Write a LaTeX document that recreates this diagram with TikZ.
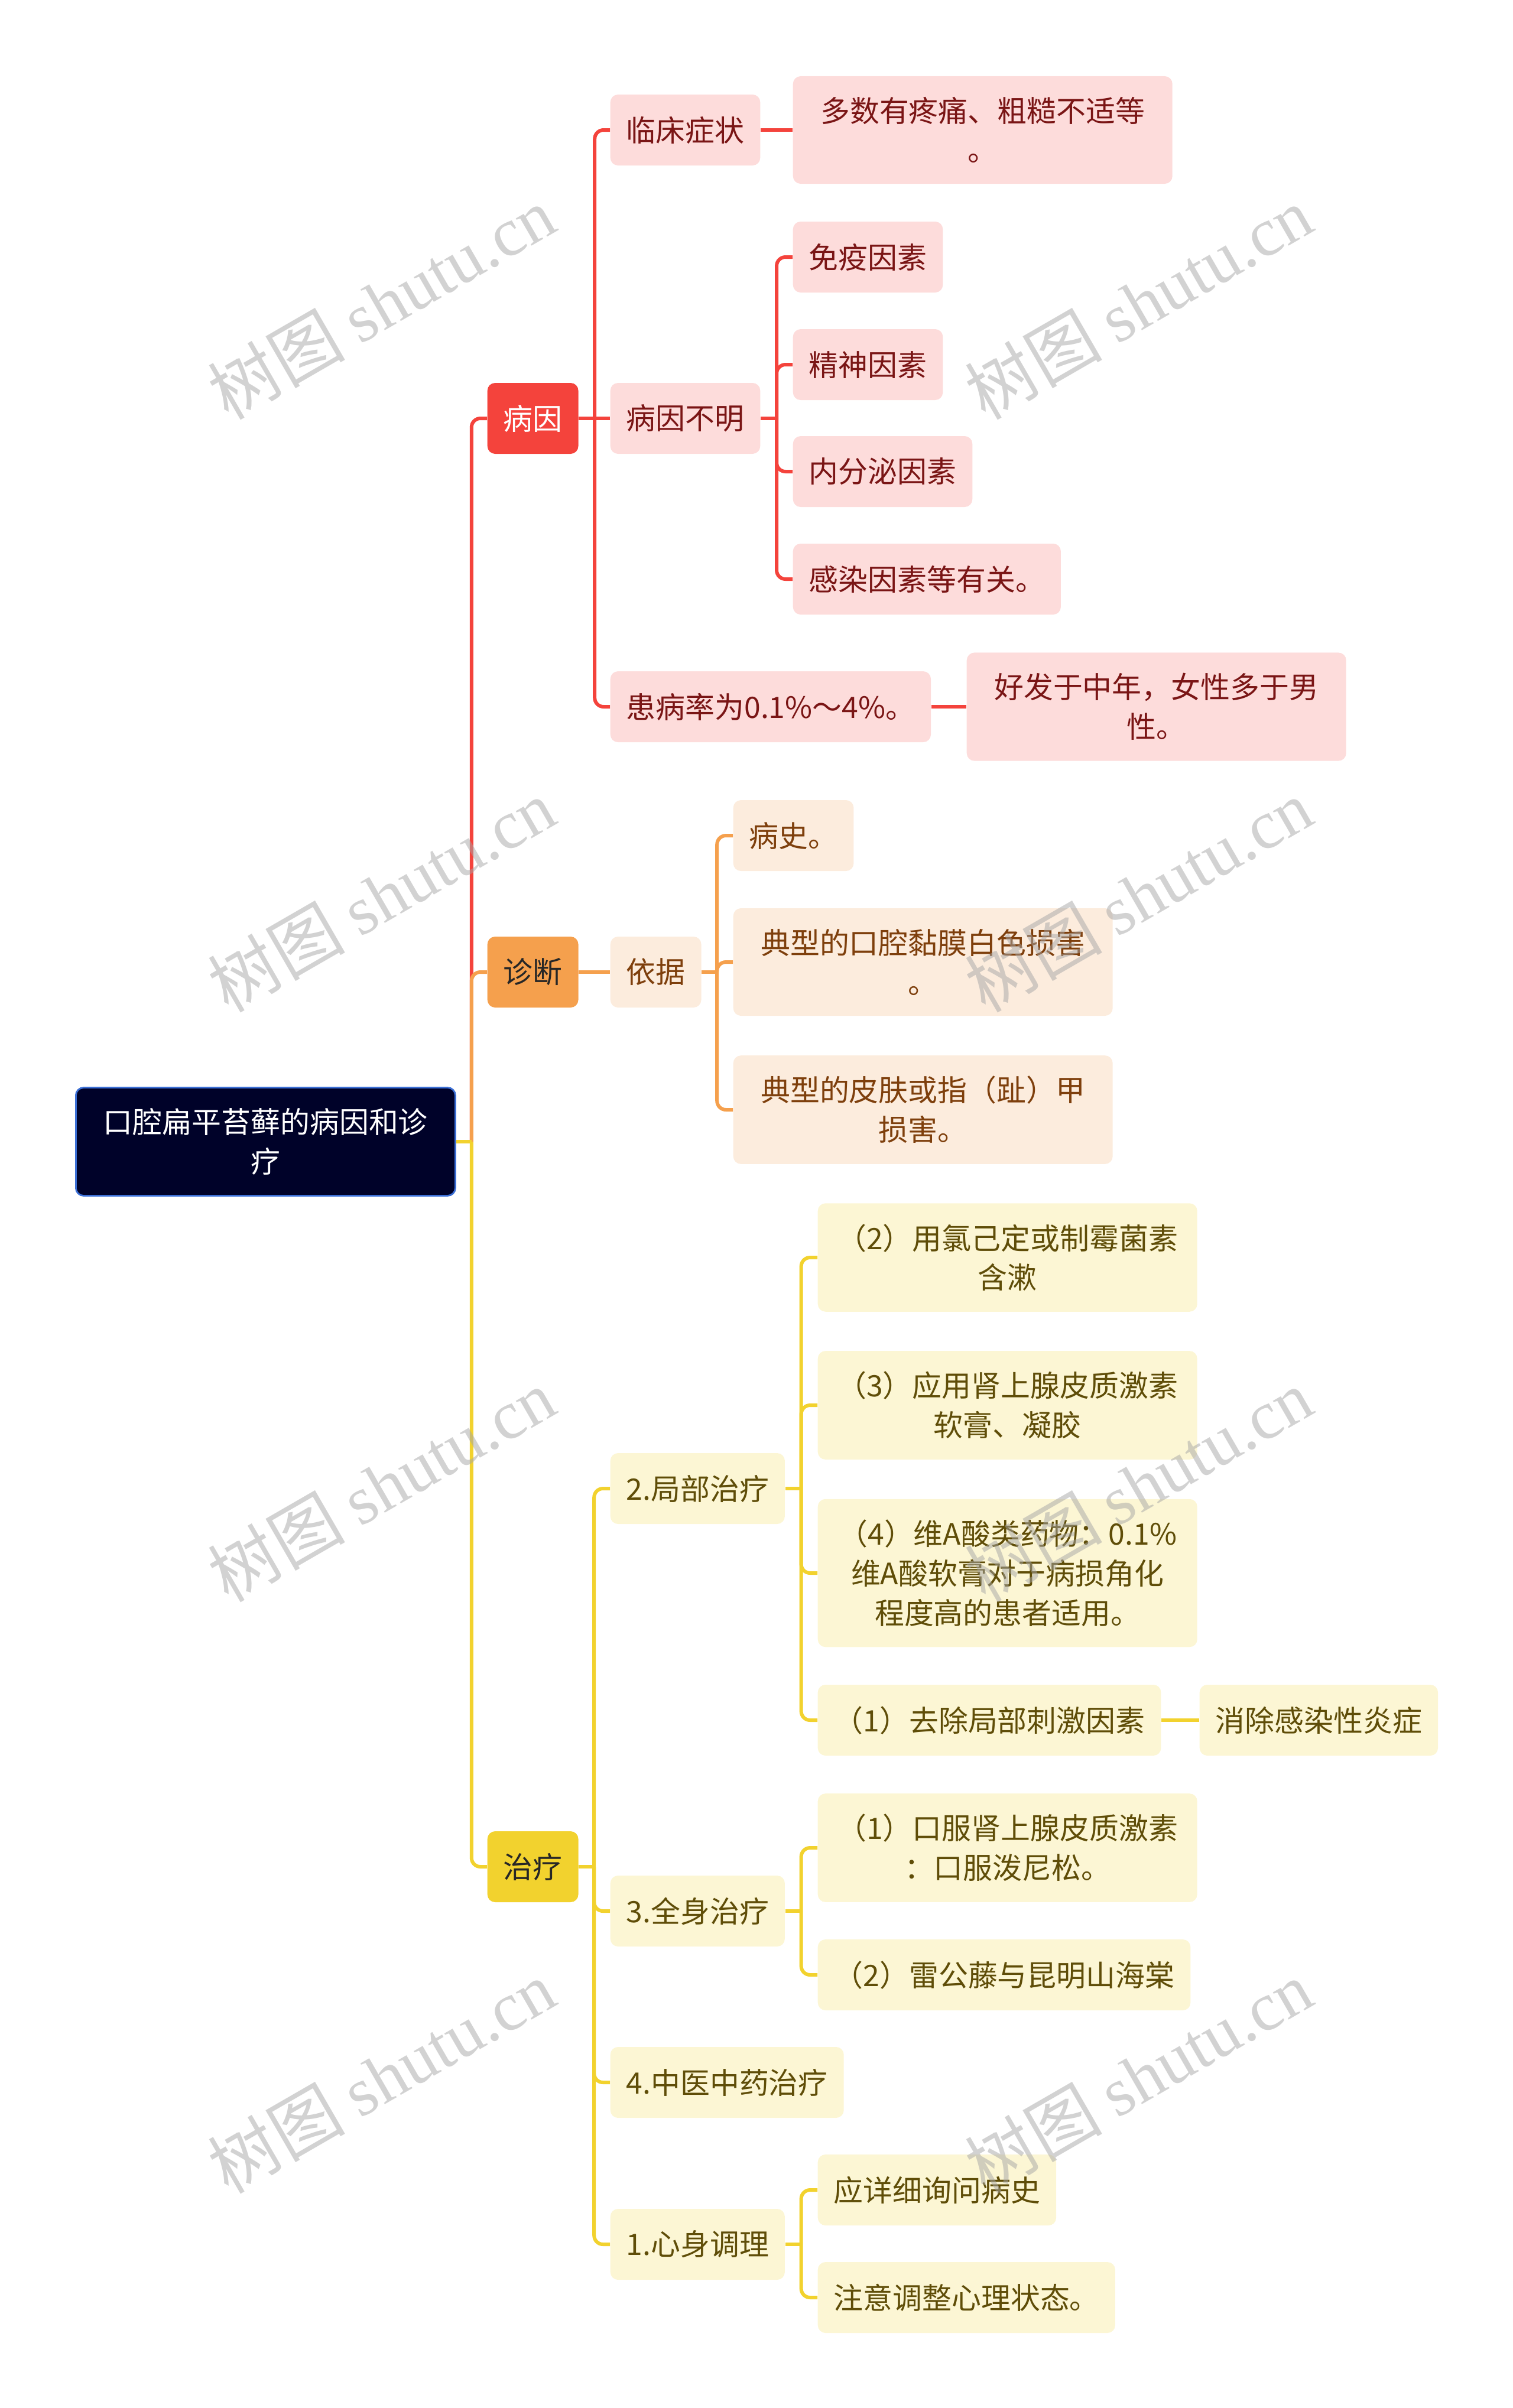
\documentclass[tikz,border=0pt]{standalone}
\usepackage{fontspec}
\setmainfont{Noto Sans CJK SC}
\newfontfamily\wmfont{Liberation Serif}
\usetikzlibrary{positioning}

\definecolor{rootfill}{HTML}{000229}
\definecolor{rootedge}{HTML}{3B6FD6}
\definecolor{redmain}{HTML}{F4433C}
\definecolor{redsub}{HTML}{FDDCDB}
\definecolor{redtext}{HTML}{7A1515}
\definecolor{orgmain}{HTML}{F5A04D}
\definecolor{orgsub}{HTML}{FCECDD}
\definecolor{orgtext}{HTML}{7E3F0C}
\definecolor{ylwmain}{HTML}{F2D22E}
\definecolor{ylwsub}{HTML}{FCF6D4}
\definecolor{ylwtext}{HTML}{5F4D08}

\tikzset{
  box/.style={rounded corners=0.13cm, inner xsep=0.27cm, inner ysep=0.35cm,
    minimum height=1.2cm, align=center, anchor=west},
  wrapbox/.style={box, text width=5.88cm},
  rootbox/.style={wrapbox, fill=rootfill, draw=rootedge, line width=0.8pt, text=white},
  redhead/.style={box, fill=redmain, text=white},
  redleaf/.style={box, fill=redsub, text=redtext},
  orghead/.style={box, fill=orgmain, text=black!85},
  orgleaf/.style={box, fill=orgsub, text=orgtext},
  ylwhead/.style={box, fill=ylwmain, text=black!85},
  ylwleaf/.style={box, fill=ylwsub, text=ylwtext},
  redline/.style={draw=redmain, line width=0.06cm, rounded corners=0.15cm},
  orgline/.style={draw=orgmain, line width=0.06cm, rounded corners=0.15cm},
  ylwline/.style={draw=ylwmain, line width=0.06cm, rounded corners=0.15cm},
  wmark/.style={rotate=30, text=black!35, text opacity=0.5,
    font=\fontsize{33pt}{33pt}\selectfont}
}

\begin{document}
\begin{tikzpicture}[font=\fontsize{14.2pt}{19pt}\selectfont]
  \useasboundingbox (0,0) rectangle (25.6,-40.75);
  % --- root and main branches ---
  \node[rootbox] (root) at (1.27,-19.32) {口腔扁平苔藓的病因和诊\\疗};
  \node[redhead] (by) at (8.24,-7.08) {病因};
  \node[orghead] (zd) at (8.24,-16.45) {诊断};
  \node[ylwhead] (zl) at (8.24,-31.59) {治疗};
  \coordinate (rootj) at ([xshift=0.26cm]root.east);

  % --- 病因 ---
  \node[redleaf] (lczz) at (10.32,-2.20) {临床症状};
  \node[redleaf, text width=5.88cm] (dsyt) at (13.41,-2.20) {多数有疼痛、粗糙不适等\\。};
  \node[redleaf] (bybm) at (10.32,-7.08) {病因不明};
  \node[redleaf] (myys) at (13.41,-4.35) {免疫因素};
  \node[redleaf] (jsys) at (13.41,-6.17) {精神因素};
  \node[redleaf] (nfm) at (13.41,-7.98) {内分泌因素};
  \node[redleaf] (grys) at (13.41,-9.80) {感染因素等有关。};
  \node[redleaf] (hbl) at (10.32,-11.96) {患病率为0.1\%～4\%。};
  \node[redleaf, text width=5.88cm] (hfzn) at (16.35,-11.96) {好发于中年，女性多于男\\性。};
  \coordinate (byj) at ([xshift=0.27cm]by.east);
  \coordinate (bybmj) at ([xshift=0.27cm]bybm.east);

  % --- 诊断 ---
  \node[orgleaf] (yj) at (10.32,-16.45) {依据};
  \node[orgleaf] (bs) at (12.40,-14.14) {病史。};
  \node[orgleaf, text width=5.88cm] (kqnm) at (12.40,-16.28) {典型的口腔黏膜白色损害\\。};
  \node[orgleaf, text width=5.88cm] (pfzj) at (12.40,-18.78) {典型的皮肤或指（趾）甲\\损害。};
  \coordinate (yjj) at ([xshift=0.26cm]yj.east);

  % --- 治疗 ---
  \node[ylwleaf] (jbzl) at (10.32,-25.19) {2.局部治疗};
  \node[ylwleaf, text width=5.88cm] (lhjd) at (13.83,-21.28) {（2）用氯己定或制霉菌素\\含漱};
  \node[ylwleaf, text width=5.88cm] (pzjs) at (13.83,-23.78) {（3）应用肾上腺皮质激素\\软膏、凝胶};
  \node[ylwleaf, text width=5.88cm] (wasy) at (13.83,-26.62) {（4）维A酸类药物：0.1\%\\维A酸软膏对于病损角化\\程度高的患者适用。};
  \node[ylwleaf] (qcjb) at (13.83,-29.11) {（1）去除局部刺激因素};
  \node[ylwleaf] (xcgr) at (20.29,-29.11) {消除感染性炎症};
  \node[ylwleaf] (qszl) at (10.32,-32.34) {3.全身治疗};
  \node[ylwleaf, text width=5.88cm] (kfjs) at (13.83,-31.27) {（1）口服肾上腺皮质激素\\：口服泼尼松。};
  \node[ylwleaf] (lgt) at (13.83,-33.42) {（2）雷公藤与昆明山海棠};
  \node[ylwleaf] (zyzl) at (10.32,-35.24) {4.中医中药治疗};
  \node[ylwleaf] (xstl) at (10.32,-37.98) {1.心身调理};
  \node[ylwleaf] (xxbs) at (13.83,-37.06) {应详细询问病史};
  \node[ylwleaf] (xlzt) at (13.83,-38.88) {注意调整心理状态。};
  \coordinate (zlj) at ([xshift=0.26cm]zl.east);
  \coordinate (jbzlj) at ([xshift=0.27cm]jbzl.east);
  \coordinate (qszlj) at ([xshift=0.27cm]qszl.east);
  \coordinate (xstlj) at ([xshift=0.27cm]xstl.east);

  % --- connectors ---
  \draw[redline] (rootj) |- (by.west);
  \draw[redline] (by.east) -- (bybm.west);
  \foreach \c in {lczz,hbl} \draw[redline] (byj) |- (\c.west);
  \draw[redline] (lczz.east) -- (dsyt.west);
  \draw[redline] (hbl.east) -- (hfzn.west);
  \draw[redline] (bybm.east) -- (bybmj);
  \foreach \c in {myys,jsys,nfm,grys} \draw[redline] (bybmj) |- (\c.west);

  \draw[orgline] (rootj) |- (zd.west);
  \draw[orgline] (zd.east) -- (yj.west);
  \draw[orgline] (yj.east) -- (yjj);
  \foreach \c in {bs,kqnm,pfzj} \draw[orgline] (yjj) |- (\c.west);

  \draw[ylwline] (rootj) |- (zl.west);
  \draw[ylwline] (root.east) -- (rootj);
  \draw[ylwline] (zl.east) -- (zlj);
  \foreach \c in {jbzl,qszl,zyzl,xstl} \draw[ylwline] (zlj) |- (\c.west);
  \draw[ylwline] (jbzl.east) -- (jbzlj);
  \foreach \c in {lhjd,pzjs,wasy,qcjb} \draw[ylwline] (jbzlj) |- (\c.west);
  \draw[ylwline] (qcjb.east) -- (xcgr.west);
  \draw[ylwline] (qszl.east) -- (qszlj);
  \foreach \c in {kfjs,lgt} \draw[ylwline] (qszlj) |- (\c.west);
  \draw[ylwline] (xstl.east) -- (xstlj);
  \foreach \c in {xxbs,xlzt} \draw[ylwline] (xstlj) |- (\c.west);

  % --- watermark ---
  \node[wmark] (wm1) at (6.45,-5.12) {树图 {\wmfont shutu.cn}};
  \node[wmark] (wm2) at (19.26,-5.12) {树图 {\wmfont shutu.cn}};
  \node[wmark] (wm3) at (6.45,-15.15) {树图 {\wmfont shutu.cn}};
  \node[wmark] (wm4) at (19.26,-15.15) {树图 {\wmfont shutu.cn}};
  \node[wmark] (wm5) at (6.45,-25.13) {树图 {\wmfont shutu.cn}};
  \node[wmark] (wm6) at (19.26,-25.13) {树图 {\wmfont shutu.cn}};
  \node[wmark] (wm7) at (6.45,-35.14) {树图 {\wmfont shutu.cn}};
  \node[wmark] (wm8) at (19.26,-35.14) {树图 {\wmfont shutu.cn}};
\end{tikzpicture}
\end{document}
